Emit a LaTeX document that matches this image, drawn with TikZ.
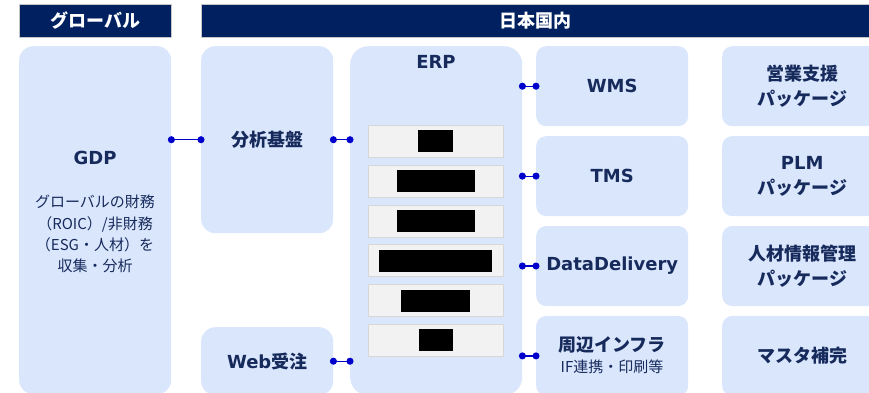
\documentclass[tikz,border=0pt]{standalone}
\usepackage{fontspec}
\setmainfont{DejaVu Sans}
\newfontfamily\jp{Noto Sans CJK JP}
\usepackage{xcolor}
\usetikzlibrary{arrows.meta}
\usetikzlibrary{positioning}

\definecolor{navy}{RGB}{0,32,96}
\definecolor{boxblue}{RGB}{218,230,252}
\definecolor{txtnavy}{RGB}{22,42,92}
\definecolor{linkblue}{RGB}{0,0,204}
\definecolor{slotgray}{RGB}{242,242,242}
\definecolor{slotline}{RGB}{215,215,215}

\begin{document}
\begin{tikzpicture}[x=1pt, y=-1pt]
\tikzstyle{head} = [fill=navy, draw=gray!45, line width=0.6pt, text=white, anchor=north west, inner sep=0pt, minimum height=33pt, font=\jp\bfseries\fontsize{18}{20}\selectfont]
\tikzstyle{area} = [fill=boxblue, rounded corners=14pt, anchor=north west, inner sep=0pt, text=txtnavy, align=center, font=\bfseries\fontsize{18}{25}\selectfont]
\tikzstyle{tile} = [area, rounded corners=10pt, minimum width=152pt, minimum height=80pt]
\tikzstyle{side} = [area, rounded corners=10pt, minimum width=160pt, minimum height=80pt]
\tikzstyle{note} = [text=txtnavy, align=center, font=\jp\fontsize{15}{21.3}\selectfont]
\tikzstyle{slot} = [fill=slotgray, draw=slotline, line width=0.8pt, anchor=north west, inner sep=0pt, minimum width=135pt, minimum height=32pt]
\tikzstyle{mask} = [fill=black, inner sep=0pt, minimum height=22pt]
\tikzstyle{link} = [draw=linkblue, line width=1.2pt, {Circle[length=7pt,width=7pt]}-{Circle[length=7pt,width=7pt]}, shorten <=-3.5pt, shorten >=-3.5pt]

\useasboundingbox (0,0) rectangle (869,392);
\clip (0,0) rectangle (869,392);

% headers
\node[head, minimum width=152pt] (hglobal) at (19,4) {グローバル};
\node[head, minimum width=668pt] (hjapan) at (201,4) {日本国内};

% boxes
\node[area, minimum width=152pt, minimum height=348pt] (gdp) at (19,46) {};
\node[area, minimum width=132pt, minimum height=187pt] (ana) at (201,46) {{\jp 分析基盤}};
\node[area, minimum width=132pt, minimum height=68pt] (web) at (201,327) {Web{\jp 受注}};
\node[area, rounded corners=18pt, minimum width=172pt, minimum height=349pt] (erp) at (350,46) {};

\node[tile] (wms) at (536,46) {WMS};
\node[tile, below=9.5pt of wms] (tms) {TMS};
\node[tile, below=9.5pt of tms] (dd) {DataDelivery};
\node[tile, below=9.5pt of dd] (infra) {};

\node[side] (sales) at (722,46) {{\jp 営業支援}\\{\jp パッケージ}};
\node[side, below=9.5pt of sales] (plm) {PLM\\{\jp パッケージ}};
\node[side, below=9.5pt of plm] (hr) {{\jp 人材情報管理}\\{\jp パッケージ}};
\node[side, below=9.5pt of hr] (master) {{\jp マスタ補完}};

% texts
\node[text=txtnavy, font=\bfseries\fontsize{18}{22}\selectfont] (gdpt) at (95,158) {GDP};
\node[note] (gdpn) at (95,234) {グローバルの財務\\（ROIC）/非財務\\（ESG・人材）を\\収集・分析};
\node[text=txtnavy, font=\bfseries\fontsize{18}{22}\selectfont] (erpt) at (436,62) {ERP};
\node[text=txtnavy, font=\jp\bfseries\fontsize{18}{22}\selectfont] (infrat) at (612,345) {周辺インフラ};
\node[text=txtnavy, font=\jp\fontsize{15}{18}\selectfont] (infran) at (612,367) {IF連携・印刷等};

% erp slots
\node[slot] (s1) at (368,125) {};
\node[slot, below=7pt of s1] (s2) {};
\node[slot, below=7pt of s2] (s3) {};
\node[slot, below=7pt of s3] (s4) {};
\node[slot, below=7pt of s4] (s5) {};
\node[slot, below=7pt of s5] (s6) {};
\node[mask, minimum width=35pt] (m1) at (s1) {};
\node[mask, minimum width=78pt] (m2) at (s2) {};
\node[mask, minimum width=78pt] (m3) at (s3) {};
\node[mask, minimum width=113pt] (m4) at (s4) {};
\node[mask, minimum width=69pt] (m5) at (s5) {};
\node[mask, minimum width=34pt] (m6) at (s6) {};

% links
\path (gdp.east |- ana) edge[link] (ana.west)
	(ana.east) edge[link] (erp.west |- ana)
	(web.east) edge[link] (erp.west |- web)
	(erp.east |- wms) edge[link] (wms.west)
	(erp.east |- tms) edge[link] (tms.west)
	(erp.east |- dd) edge[link] (dd.west)
	(erp.east |- infra) edge[link] (infra.west)
	;

\end{tikzpicture}
\end{document}
